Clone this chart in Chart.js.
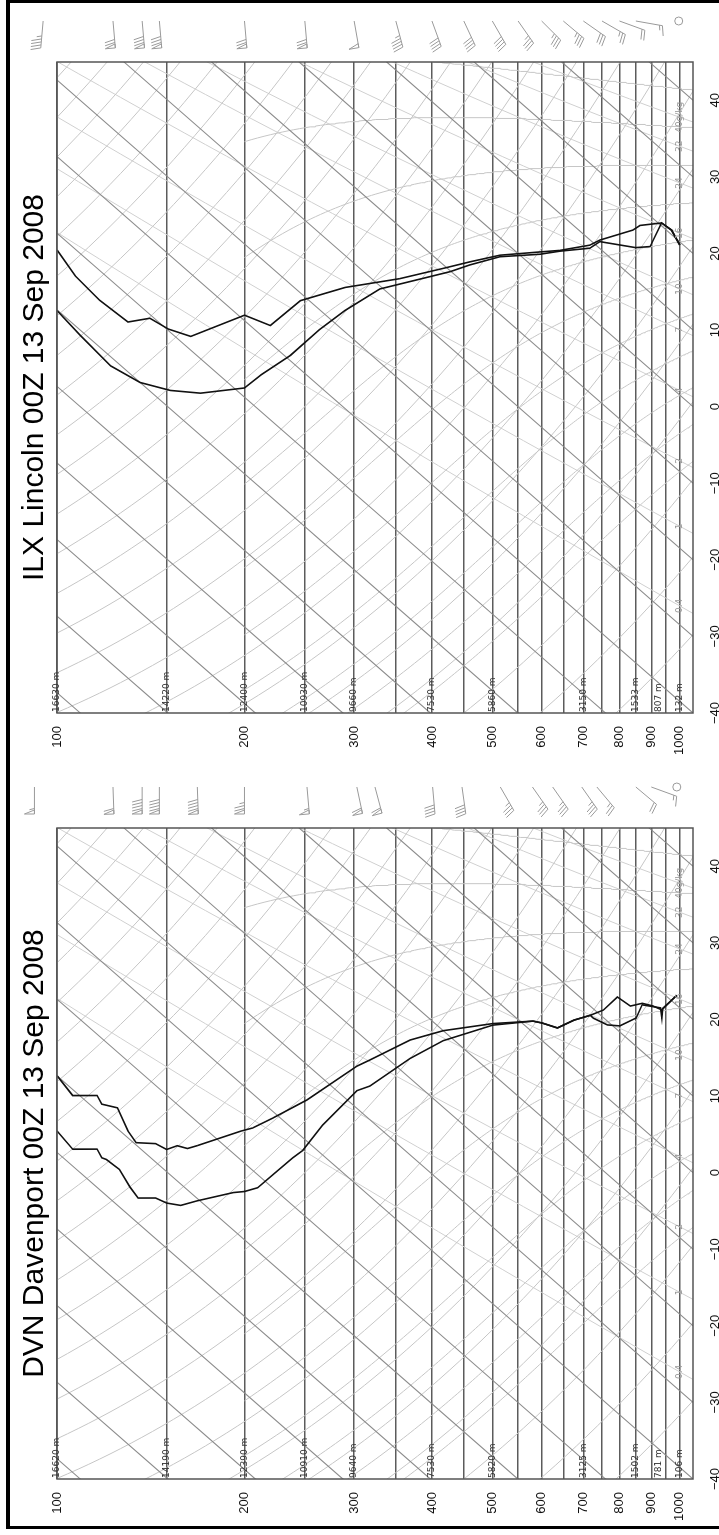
<!DOCTYPE html>
<html>
<head>
<meta charset="utf-8">
<title>Skew-T DVN / ILX 00Z 13 Sep 2008</title>
<script src="https://cdn.jsdelivr.net/npm/chart.js@4.4.0/dist/chart.umd.min.js"></script>
<style>
  html, body { margin: 0; padding: 0; background: #fff; }
  body { width: 719px; height: 1535px; position: relative; overflow: hidden; }
  #land { position: absolute; left: 0; top: 0; width: 1535px; height: 719px;
          transform-origin: 0 0; transform: translateY(1535px) rotate(-90deg); }
  #land canvas { position: absolute; top: 0; }
  .edge { position: absolute; background: #000; }
</style>
</head>
<body>
<div id="land">
  <canvas id="dvn" width="767" height="719" style="left:0"></canvas>
  <canvas id="ilx" width="769" height="719" style="left:766px"></canvas>
</div>
<div class="edge" style="left:6px;top:0;width:4px;height:1529px"></div>
<div class="edge" style="left:6px;top:0;width:713px;height:3px"></div>
<div class="edge" style="left:6px;top:1526px;width:713px;height:3px"></div>
<script>
// ---- axes / labels ----
const tempTicks = [-40, -30, -20, -10, 0, 10, 20, 30, 40];
const isobars = [100, 150, 200, 250, 300, 350, 400, 450, 500, 550, 600, 650, 700, 750, 800, 850, 900, 950, 1000];
const heightLevels = [100, 150, 200, 250, 300, 400, 500, 700, 850, 925, 1000];
const mixValues = [0.4, 1, 2, 4, 7, 10, 16, 24, 32, 40];
const mixLabels = ['0.4', '1', '2', '4', '7', '10', '16', '24', '32', '40g/kg'];

// ---- DVN Davenport ----
const dvnHeights = ['16620 m', '14190 m', '12390 m', '10910 m', '9640 m', '7530 m', '5820 m', '3125 m', '1502 m', '781 m', '106 m'];
const dvnTempP = [100, 106, 116, 118, 125, 130, 134, 144, 150, 156, 162, 168, 197, 206, 222, 252, 303, 318, 369, 417, 501, 581, 601, 636, 676, 718, 754, 794, 833, 870, 906, 936, 989];
const dvnTemp  = [-60.0, -60.8, -58.0, -58.6, -57.3, -59.1, -59.7, -57.6, -57.1, -55.4, -54.6, -53.1, -46.3, -44.5, -40.9, -34.6, -24.5, -22.2, -15.0, -10.0, -3.4, 1.5, 2.3, 3.4, 6.3, 8.8, 11.0, 14.3, 14.6, 16.3, 17.2, 17.7, 21.3];
const dvnDewP  = [100, 106, 116, 118, 120, 126, 131, 135, 144, 150, 158, 168, 192, 200, 210, 222, 239, 248, 267, 303, 318, 369, 417, 501, 581, 601, 636, 676, 718, 727, 765, 801, 851, 870, 931, 936, 939, 989];
const dvnDew   = [-67.2, -67.8, -65.0, -65.6, -65.3, -65.1, -66.2, -66.7, -64.7, -64.1, -62.8, -60.3, -55.1, -53.7, -51.7, -48.3, -43.8, -41.7, -36.1, -27.7, -25.6, -17.4, -11.3, -3.6, 1.5, 2.3, 3.4, 6.3, 8.8, 8.8, 9.5, 10.8, 13.7, 16.1, 17.8, 16.6, 18.0, 21.3];
const dvnWindP   = [92, 123, 137, 146, 168, 200, 252, 303, 324, 401, 447, 515, 580, 625, 696, 736, 850, 900];
const dvnWindDir = [270, 268, 270, 270, 268, 270, 265, 258, 255, 265, 262, 240, 235, 235, 235, 230, 220, 200];
const dvnWindSpd = [55, 60, 90, 90, 90, 75, 55, 60, 60, 40, 40, 35, 35, 35, 35, 25, 20, 15];

// ---- ILX Lincoln ----
const ilxHeights = ['16630 m', '14220 m', '12400 m', '10930 m', '9660 m', '7530 m', '5860 m', '3150 m', '1533 m', '807 m', '132 m'];
const ilxTempP = [100, 107, 117, 130, 141, 151, 164, 200, 220, 246, 290, 355, 420, 460, 514, 596, 642, 717, 744, 841, 863, 935, 970, 1000];
const ilxTemp  = [-52.2, -53.5, -53.9, -53.5, -50.5, -49.8, -48.2, -39.3, -37.7, -31.0, -24.2, -16.8, -10.2, -6.6, -2.3, 2.7, 5.2, 9.3, 11.1, 16.2, 17.6, 20.4, 20.6, 19.6];
const ilxDewP  = [100, 109, 122, 136, 152, 170, 200, 213, 237, 264, 290, 330, 383, 428, 460, 514, 596, 642, 717, 744, 849, 896, 935, 970, 1000];
const ilxDew   = [-60.1, -60.7, -61.2, -60.0, -57.6, -54.5, -48.8, -45.1, -39.3, -32.6, -27.2, -20.4, -14.5, -10.1, -7.0, -2.5, 2.4, 5.1, 8.9, 10.9, 14.2, 16.0, 20.4, 20.6, 19.6];
const ilxWindP   = [95, 123, 137, 146, 200, 250, 300, 350, 400, 450, 500, 550, 600, 650, 700, 750, 800, 850];
const ilxWindDir = [275, 265, 265, 265, 265, 265, 260, 255, 250, 245, 240, 235, 225, 220, 215, 210, 200, 190];
const ilxWindSpd = [45, 70, 80, 80, 70, 70, 50, 45, 40, 40, 40, 35, 35, 35, 30, 25, 20, 15];

// ---- skew-T geometry and background lines ----
const SKEW = 30.9, PBOT = 1050;
function skewX(t, p) { return t + SKEW * Math.log(PBOT / p); }
function esat(t) { return 6.112 * Math.exp(17.67 * t / (t + 243.5)); }
function dewFromMix(w, p) {
  const e = w * p / (622 + w), l = Math.log(e / 6.112);
  return 243.5 * l / (17.67 - l);
}
function logSteps(p0, p1, n) {
  const out = [];
  for (let i = 0; i <= n; i++) out.push(p0 * Math.pow(p1 / p0, i / n));
  return out;
}
function moistLapse(t, p) {
  const tk = t + 273.15, es = esat(t), rs = 0.622 * es / (p - es);
  const lv = 2.501e6, rd = 287.04, cp = 1005.7;
  return (rd * tk + lv * rs) / (cp + lv * lv * rs * 0.622 / (rd * tk * tk)) / p;
}
function moistPath(t0, pTop) {
  let t = t0, p = 1000;
  const up = [];
  while (p > pTop - 0.1) {
    up.push({x: skewX(t, p), y: p});
    const h = -5;
    const k1 = moistLapse(t, p), k2 = moistLapse(t + k1 * h, p + h);
    t += (k1 + k2) / 2 * h; p += h;
  }
  t = t0; p = 1000;
  const down = [];
  while (p < PBOT) {
    const h = 5;
    const k1 = moistLapse(t, p), k2 = moistLapse(t + k1 * h, p + h);
    t += (k1 + k2) / 2 * h; p += h;
    down.push({x: skewX(t, p), y: p});
  }
  return down.reverse().concat(up);
}

function lineSet(data, color, width, dash) {
  return {data, showLine: true, borderColor: color, borderWidth: width, borderDash: dash || [],
          pointRadius: 0, tension: 0, fill: false};
}

function backgroundSets() {
  const sets = [];
  for (let t = -150; t <= 40; t += 10)
    sets.push(lineSet([{x: skewX(t, PBOT), y: PBOT}, {x: skewX(t, 100), y: 100}], '#8a8a8a', 1.1));
  for (let th = 240; th <= 480; th += 10)
    sets.push(lineSet(logSteps(PBOT, 100, 60).map(p => ({x: skewX(th * Math.pow(p / 1000, 0.2857) - 273.15, p), y: p})), '#c6c6c6', 1));
  for (let t0 = -10; t0 <= 40; t0 += 5)
    sets.push(lineSet(moistPath(t0, 200), '#c6c6c6', 1));
  mixValues.forEach(w =>
    sets.push(lineSet(logSteps(PBOT, 100, 30).map(p => ({x: skewX(dewFromMix(w, p), p), y: p})), '#d0d0d0', 1)));
  return sets;
}

// ---- wind barbs ----
function drawBarb(ctx, x, y, dir, spd) {
  const L = 27, r = dir * Math.PI / 180;
  const ux = Math.sin(r), uy = -Math.cos(r);
  const fx = -uy, fy = ux;
  const ex = x + ux * L, ey = y + uy * L;
  ctx.beginPath(); ctx.moveTo(x, y); ctx.lineTo(ex, ey); ctx.stroke();
  let s = Math.round(spd / 5) * 5, pos = 0;
  const fl = 10, gap = 3;
  while (s >= 50) {
    const bx = ex - ux * pos, by = ey - uy * pos;
    ctx.beginPath();
    ctx.moveTo(bx, by);
    ctx.lineTo(bx + fx * fl, by + fy * fl);
    ctx.lineTo(bx - ux * 4, by - uy * 4);
    ctx.closePath(); ctx.stroke();
    pos += 5.5; s -= 50;
  }
  while (s >= 10) {
    const bx = ex - ux * pos, by = ey - uy * pos;
    ctx.beginPath(); ctx.moveTo(bx, by);
    ctx.lineTo(bx + fx * fl + ux * 2.5, by + fy * fl + uy * 2.5); ctx.stroke();
    pos += gap; s -= 10;
  }
  if (s >= 5) {
    if (pos === 0) pos = gap;
    const bx = ex - ux * pos, by = ey - uy * pos;
    ctx.beginPath(); ctx.moveTo(bx, by);
    ctx.lineTo(bx + fx * fl / 2 + ux * 1.2, by + fy * fl / 2 + uy * 1.2); ctx.stroke();
  }
}

const overlay = {
  id: 'overlay',
  afterDatasetsDraw(chart, args, o) {
    const {ctx, chartArea: a, scales: {x, y}} = chart;
    ctx.save();
    ctx.strokeStyle = '#555'; ctx.lineWidth = 1.5;
    ctx.strokeRect(a.left, a.top, a.right - a.left, a.bottom - a.top);
    ctx.font = '9px "DejaVu Sans"'; ctx.fillStyle = '#333';
    ctx.textBaseline = 'middle'; ctx.textAlign = 'left';
    heightLevels.forEach((p, i) => ctx.fillText(o.heights[i], a.left + 1, y.getPixelForValue(p)));
    ctx.fillStyle = '#9a9a9a'; ctx.textAlign = 'center';
    mixValues.forEach((w, i) => {
      ctx.fillText(mixLabels[i], x.getPixelForValue(skewX(dewFromMix(w, 1000), 1000)), y.getPixelForValue(1000));
    });
    ctx.strokeStyle = '#9a9a9a'; ctx.fillStyle = '#9a9a9a'; ctx.lineWidth = 1;
    const bx = a.right + 41;
    o.windP.forEach((p, i) => drawBarb(ctx, bx, y.getPixelForValue(p), o.windDir[i], o.windSpd[i]));
    const sy = y.getPixelForValue(o.sfcP);
    ctx.beginPath(); ctx.arc(bx, sy, 4, 0, Math.PI * 2); ctx.stroke();
    ctx.restore();
  }
};

function makeChart(id, title, tp, tt, dp, dt, heights, windP, windDir, windSpd, sfcP, padRight) {
  const pts = (ps, ts) => ps.map((p, i) => ({x: skewX(ts[i], p), y: p}));
  const datasets = [
    lineSet(pts(tp, tt), '#111', 1.6),
    lineSet(pts(dp, dt), '#111', 1.6)
  ].concat(backgroundSets());
  return new Chart(document.getElementById(id), {
    type: 'scatter',
    data: {datasets},
    plugins: [overlay],
    options: {
      responsive: false, animation: false, events: [],
      layout: {padding: {left: 0, right: padRight, top: 0, bottom: 0}},
      plugins: {
        legend: {display: false}, tooltip: {enabled: false},
        title: {display: true, text: title, fullSize: false, color: '#000',
                font: {family: '"Liberation Sans", Arial, sans-serif', size: 30, weight: 'normal'},
                padding: {top: 17, bottom: 4}},
        overlay: {heights, windP, windDir, windSpd, sfcP}
      },
      scales: {
        x: {
          type: 'linear', min: -40, max: 45,
          afterFit: s => { s.height = 26; },
          afterBuildTicks: s => { s.ticks = tempTicks.map(v => ({value: v})); },
          grid: {display: false}, border: {display: false},
          ticks: {padding: 7, color: '#111', autoSkip: false, maxRotation: 0,
                  font: {family: '"Liberation Sans", Arial, sans-serif', size: 13},
                  callback: v => (v < 0 ? '\u2212' + Math.abs(v) : String(v))}
        },
        y: {
          type: 'logarithmic', reverse: true, min: 100, max: PBOT,
          afterFit: s => { s.width = 56; },
          afterBuildTicks: s => { s.ticks = isobars.map(v => ({value: v})); },
          grid: {color: '#5c5c5c', lineWidth: 1.4, drawTicks: false},
          border: {display: false},
          ticks: {padding: 13, color: '#111', autoSkip: false,
                  font: {family: '"Liberation Sans", Arial, sans-serif', size: 13},
                  callback: v => (v % 100 === 0 ? String(v) : '')}
        }
      }
    }
  });
}

makeChart('dvn', 'DVN Davenport 00Z 13 Sep 2008', dvnTempP, dvnTemp, dvnDewP, dvnDew, dvnHeights,
          dvnWindP, dvnWindDir, dvnWindSpd, 989, 60);
makeChart('ilx', 'ILX Lincoln 00Z 13 Sep 2008', ilxTempP, ilxTemp, ilxDewP, ilxDew, ilxHeights,
          ilxWindP, ilxWindDir, ilxWindSpd, 996, 62);
</script>
</body>
</html>
